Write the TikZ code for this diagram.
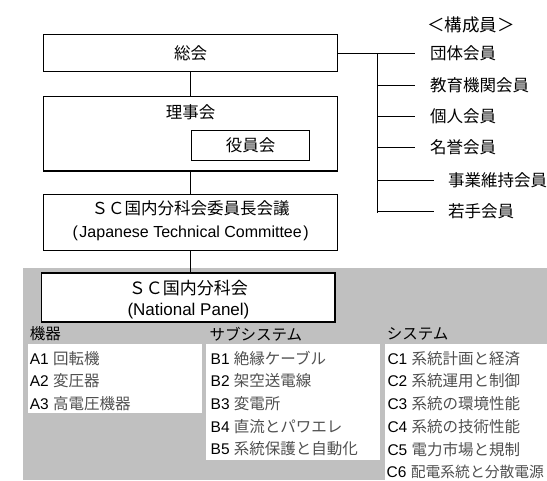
\documentclass[tikz,border=0pt]{standalone}
\usepackage{fontspec}
\setmainfont{Liberation Sans}
\newfontfamily\jp{Noto Sans CJK JP}
\definecolor{bggray}{RGB}{192,192,192}
\definecolor{jpgray}{RGB}{80,80,80}
\begin{document}
\begin{tikzpicture}[x=1pt,y=-1pt,
  box/.style={draw=black, line width=1.1pt, fill=white, inner sep=0pt},
  conn/.style={draw=black, line width=1pt},
  ttl/.style={inner sep=0pt, font=\jp\fontsize{16.5}{20}\selectfont},
  mem/.style={inner sep=0pt, anchor=west, font=\jp\fontsize{16.5}{20}\selectfont},
  hdr/.style={inner sep=0pt, anchor=west, font=\jp\fontsize{15.5}{18}\selectfont},
  item/.style={inner sep=0pt, anchor=west, font=\fontsize{15.5}{18}\selectfont}
]
\useasboundingbox (0,0) rectangle (547,480);

% background for the panel area
\fill[bggray] (22.5,268) rectangle (547,480);

% top boxes
\node[box, minimum width=294.1pt, minimum height=37.4pt] (sokai) at (190.65,53) {};
\node[ttl] (sokait) at (190.65,53) {総会};
\node[box, minimum width=294.1pt, minimum height=74.3pt] (rijikai) at (190.65,133.85) {};
\node[ttl] (rijikait) at (190.65,112) {理事会};
\node[box, minimum width=117.9pt, minimum height=30.4pt] (yakuin) at (250.55,145.5) {};
\node[ttl] (yakuint) at (250.55,145.5) {役員会};
\node[box, minimum width=294.1pt, minimum height=56.4pt] (sc) at (190.65,222.5) {};
\node[inner sep=0pt, align=center, font=\fontsize{16.5}{23}\selectfont] (sct) at (190.65,221) {{\jp ＳＣ国内分科会委員長会議}\\{\fontsize{16}{23}\selectfont (\kern1.5pt Japanese Technical Committee\kern1.5pt)}};
\node[box, minimum width=293.1pt, minimum height=49pt] (np) at (188.45,297.5) {};
\node[inner sep=0pt, align=center, font=\fontsize{17}{21}\selectfont] (npt) at (188.45,299.3) {{\jp ＳＣ国内分科会}\\(National Panel)};

% vertical connectors
\draw[conn] (sokai.south) -- (rijikai.north);
\draw[conn] (rijikai.south) -- (sc.north);
\draw[conn] (sc.south) -- (sc.south |- np.north);

% members
\node[inner sep=0pt, font=\jp\fontsize{17.5}{20}\selectfont] (kosei) at (471,25) {＜構成員＞};
\node[mem] (l1) at (430,53) {団体会員};
\node[mem] (l2) at (430,85) {教育機関会員};
\node[mem] (l3) at (430,116) {個人会員};
\node[mem] (l4) at (430,147) {名誉会員};
\node[mem] (l5) at (448,180) {事業維持会員};
\node[mem] (l6) at (448,211) {若手会員};
\coordinate (trunk) at (377.5,53);
\draw[conn] (sokai.east) -- ([xshift=-15pt]l1.west);
\draw[conn] (trunk) -- ([yshift=-2pt]trunk |- l6.west);
\draw[conn] (trunk |- l2.west) -- ([xshift=-15pt]l2.west);
\draw[conn] (trunk |- l3.west) -- ([xshift=-15pt]l3.west);
\draw[conn] (trunk |- l4.west) -- ([xshift=-15pt]l4.west);
\draw[conn] (trunk |- l5.west) -- ([xshift=-14pt]l5.west);
\draw[conn] (trunk |- l6.west) -- ([xshift=-14pt]l6.west);

% panel lists
\fill[white] (27.9,343.5) rectangle (201.7,413.3);
\fill[white] (206.2,343.5) rectangle (379.6,460);
\fill[white] (384.9,343.5) rectangle (547,480);

\node[hdr] (ha) at (29.7,334) {機器};
\node[hdr] (hb) at (209.4,334) {サブシステム};
\node[hdr] (hc) at (386.6,334) {システム};

\node[item] (a1) at (29.7,358.3) {A1 {\jp\color{jpgray}回転機}};
\node[item] (a2) at (29.7,381.0) {A2 {\jp\color{jpgray}変圧器}};
\node[item] (a3) at (29.7,403.7) {A3 {\jp\color{jpgray}高電圧機器}};

\node[item] (b1) at (210.5,358.3) {B1 {\jp\color{jpgray}絶縁ケーブル}};
\node[item] (b2) at (210.5,381.0) {B2 {\jp\color{jpgray}架空送電線}};
\node[item] (b3) at (210.5,403.7) {B3 {\jp\color{jpgray}変電所}};
\node[item] (b4) at (210.5,426.4) {B4 {\jp\color{jpgray}直流とパワエレ}};
\node[item] (b5) at (210.5,449.1) {B5 {\jp\color{jpgray}系統保護と自動化}};

\node[item] (c1) at (387.3,358.3) {C1 {\jp\color{jpgray}系統計画と経済}};
\node[item] (c2) at (387.3,381.0) {C2 {\jp\color{jpgray}系統運用と制御}};
\node[item] (c3) at (387.3,403.7) {C3 {\jp\color{jpgray}系統の環境性能}};
\node[item] (c4) at (387.3,426.4) {C4 {\jp\color{jpgray}系統の技術性能}};
\node[item] (c5) at (387.3,449.1) {C5 {\jp\color{jpgray}電力市場と規制}};
\node[item] (c6) at (386.5,471.8) {C6 {\jp\fontsize{14.8}{18}\selectfont\color{jpgray}配電系統と分散電源}};
\end{tikzpicture}
\end{document}
